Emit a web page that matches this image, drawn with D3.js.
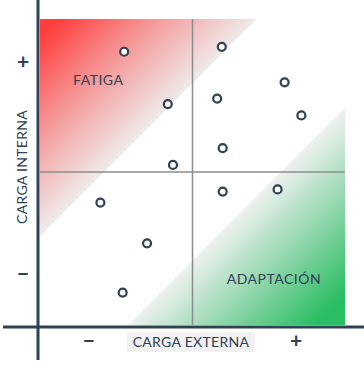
<!DOCTYPE html>
<html><head><meta charset="utf-8">
<script src="https://cdn.jsdelivr.net/npm/d3@7"></script>
<style>html,body{margin:0;padding:0;background:#fff;}svg{display:block;font-family:Lato,"Open Sans",sans-serif;}</style>
</head><body>
<script>
// Data
const pointX = [2.76, 5.96, 4.19, 5.81, 8.02, 8.57, 5.99, 4.36, 5.99, 7.79, 1.98, 3.51, 2.71];
const pointY = [8.93, 9.09, 7.22, 7.40, 7.93, 6.85, 5.78, 5.23, 4.36, 4.43, 4.00, 2.67, 1.06];
const fatigaZone = [[0, 10], [7.1, 10], [0, 2.9]];
const adaptZone = [[2.9, 0], [10, 0], [10, 7.1]];
const zoneLabels = ["FATIGA", "ADAPTACIÓN"];
const zoneLabelPos = [[1.91, 7.85], [7.67, 1.35]];
const xTickVals = [1.6, 8.4];
const xTickLabels = ["−", "+"];
const yTickVals = [1.67, 8.6];
const yTickLabels = ["−", "+"];
const xTitle = "CARGA EXTERNA";
const yTitle = "CARGA INTERNA";

const W = 364, H = 372;
const svg = d3.select("body").append("svg").attr("width", W).attr("height", H);
const x = d3.scaleLinear().domain([0, 10]).range([40, 345]);
const y = d3.scaleLinear().domain([0, 10]).range([325, 19]);
const ink = "#2f4154";

const defs = svg.append("defs");
const gr = defs.append("linearGradient").attr("id", "gRed")
  .attr("gradientUnits", "userSpaceOnUse")
  .attr("x1", x(0.3)).attr("y1", y(9.7)).attr("x2", x(3.55)).attr("y2", y(6.45));
gr.append("stop").attr("offset", "0").attr("stop-color", "#ff3e3e");
gr.append("stop").attr("offset", "0.5").attr("stop-color", "#f49a9a");
gr.append("stop").attr("offset", "1").attr("stop-color", "#efeaea");
const gg = defs.append("linearGradient").attr("id", "gGreen")
  .attr("gradientUnits", "userSpaceOnUse")
  .attr("x1", x(9.5)).attr("y1", y(0.5)).attr("x2", x(6.45)).attr("y2", y(3.55));
gg.append("stop").attr("offset", "0").attr("stop-color", "#2abd63");
gg.append("stop").attr("offset", "0.5").attr("stop-color", "#8dd5a9");
gg.append("stop").attr("offset", "1").attr("stop-color", "#eef1ef");

const line = d3.line().x(d => x(d[0])).y(d => y(d[1]));
svg.append("path").attr("d", line(fatigaZone) + "Z").attr("fill", "url(#gRed)");
svg.append("path").attr("d", line(adaptZone) + "Z").attr("fill", "url(#gGreen)");

// center lines
svg.append("line").attr("x1", x(5)).attr("x2", x(5)).attr("y1", y(10)).attr("y2", y(0))
  .attr("stroke", "#8c8c8c").attr("stroke-width", 1.5);
svg.append("line").attr("x1", x(0)).attr("x2", x(10)).attr("y1", y(5)).attr("y2", y(5))
  .attr("stroke", "#8c8c8c").attr("stroke-width", 1.5);

// zone labels
svg.selectAll("text.zone").data(zoneLabels).join("text").attr("class", "zone")
  .attr("x", (d, i) => x(zoneLabelPos[i][0])).attr("y", (d, i) => y(zoneLabelPos[i][1]))
  .attr("text-anchor", "middle").attr("font-size", 14).attr("letter-spacing", 0.5)
  .attr("fill", ink).text(d => d);

// axes
svg.append("line").attr("x1", 38).attr("x2", 38).attr("y1", 0).attr("y2", 360)
  .attr("stroke", ink).attr("stroke-width", 3);
svg.append("line").attr("x1", 3).attr("x2", 364).attr("y1", 327).attr("y2", 327)
  .attr("stroke", ink).attr("stroke-width", 3);

// x title with background
const xt = svg.append("g");
xt.append("rect").attr("x", 127).attr("y", 332).attr("width", 128).attr("height", 20).attr("fill", "#f1f1f1");
xt.append("text").attr("x", 191).attr("y", 347).attr("text-anchor", "middle")
  .attr("font-size", 14).attr("letter-spacing", 0.3).attr("fill", ink).text(xTitle);
svg.append("text").attr("transform", "translate(27,167) rotate(-90)")
  .attr("text-anchor", "middle").attr("font-size", 14).attr("letter-spacing", 0.3)
  .attr("fill", ink).text(yTitle);

// tick labels
svg.selectAll("text.xt").data(xTickVals).join("text").attr("class", "xt")
  .attr("x", d => x(d)).attr("y", 348).attr("text-anchor", "middle")
  .attr("font-size", 21).attr("font-weight", "bold").attr("fill", ink).text((d, i) => xTickLabels[i]);
svg.selectAll("text.yt").data(yTickVals).join("text").attr("class", "yt")
  .attr("x", 23).attr("y", d => y(d) + 7).attr("text-anchor", "middle")
  .attr("font-size", 21).attr("font-weight", "bold").attr("fill", ink).text((d, i) => yTickLabels[i]);

// points
svg.selectAll("circle.pt").data(pointX).join("circle").attr("class", "pt")
  .attr("cx", d => x(d)).attr("cy", (d, i) => y(pointY[i])).attr("r", 4)
  .attr("fill", "#fff").attr("stroke", ink).attr("stroke-width", 2.2);
</script>
</body></html>
